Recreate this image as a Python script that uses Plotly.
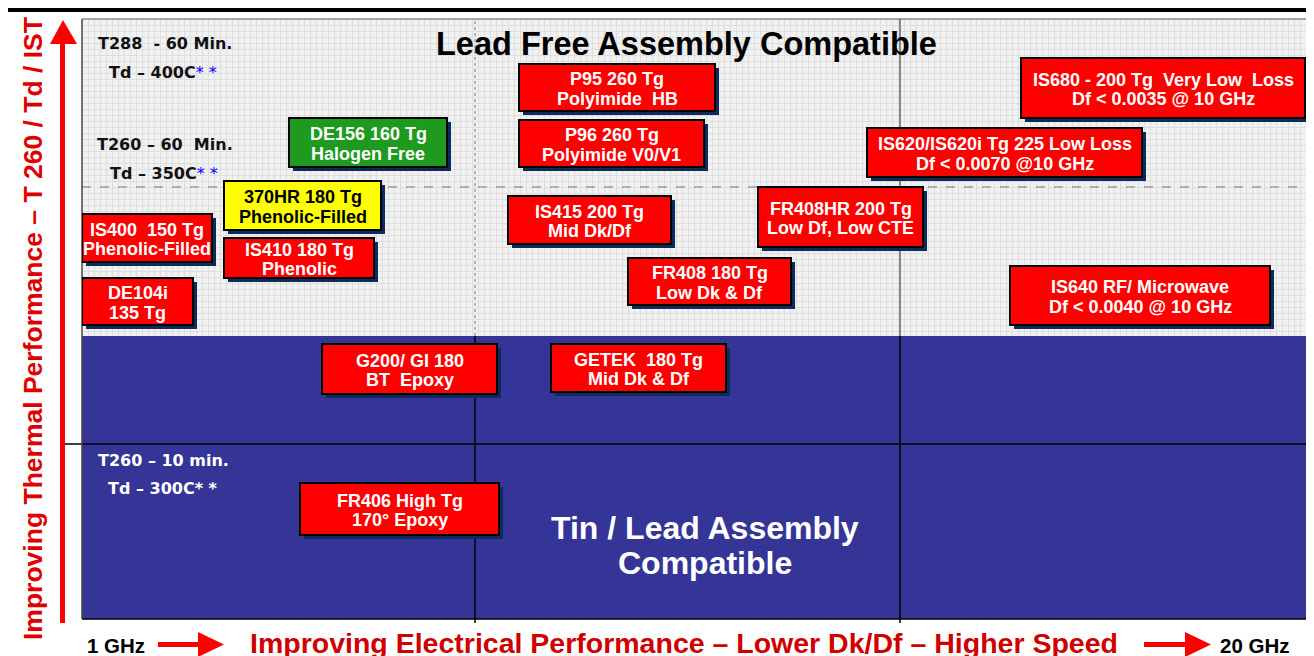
import plotly.graph_objects as go

# ---------------- data (chart units: x = electrical performance 0..1232, y = thermal performance 0..600)
products = [
    "DE156 160 Tg<br>Halogen Free",
    "370HR 180 Tg<br>Phenolic-Filled",
    "IS400\u00a0 150 Tg<br>Phenolic-Filled",
    "IS410 180 Tg<br>Phenolic",
    "DE104i<br>135 Tg",
    "P95 260 Tg<br>Polyimide\u00a0 HB",
    "P96 260 Tg<br>Polyimide V0/V1",
    "IS415 200 Tg<br>Mid Dk/Df",
    "FR408 180 Tg<br>Low Dk & Df",
    "FR408HR 200 Tg<br>Low Df, Low CTE",
    "IS620/IS620i Tg 225 Low Loss<br>Df < 0.0070 @10 GHz",
    "IS680 - 200 Tg\u00a0 Very Low\u00a0 Loss<br>Df < 0.0035 @ 10 GHz",
    "IS640 RF/ Microwave<br>Df < 0.0040 @ 10 GHz",
    "G200/ GI 180<br>BT\u00a0 Epoxy",
    "GETEK\u00a0 180 Tg<br>Mid Dk & Df",
    "FR406 High Tg<br>170° Epoxy",
]
elec = [286, 220.5, 65, 217, 55.5, 535, 529.5, 507.5, 627.5, 758.5, 922.5, 1081, 1058, 327.5, 556.5, 317.5]
thermal = [476.5, 413.5, 381, 361, 317.5, 531.5, 475.5, 399, 337.5, 402, 466.5, 531, 323.5, 250, 251, 110]
box_w = [158, 157, 130, 150, 111, 196, 185, 163, 163, 165, 275, 284, 260, 175, 175, 199]
box_h = [49, 49, 48, 40, 47, 47, 47, 48, 47, 60, 49, 60, 59, 50, 48, 52]
box_kind = ["halogen", "filled"] + ["std"] * 14

kind_fill = {"halogen": "#1e9a1e", "filled": "#ffff00", "std": "#ff0000"}
kind_text = {"halogen": "white", "filled": "black", "std": "white"}

region_split = 283        # lead-free vs tin/lead boundary (thermal)
lead_free_mid = 432       # dashed divider
tin_lead_mid = 175        # solid divider
freq_splits = [393, 818]  # electrical performance dividers

corner_labels_top = ["T288\u00a0 - 60 Min.", "Td – 400C", "T260 – 60\u00a0 Min.", "Td – 350C"]
corner_labels_bottom = ["T260 – 10 min.", "Td – 300C"]
region_titles = ["Lead Free Assembly Compatible", "Tin / Lead Assembly", "Compatible"]

# ---------------- layout geometry (page pixels; the page body adds an 8px offset)
OFF = 8
W, H = 1314, 656
ML, MR, MT, MB = 82, 0, 19, 37
PW, PH = W - ML - MR, H - MT - MB
XMAX, YMAX = 1232, 600
FONT = "Liberation Sans, Arial, sans-serif"
WIDE = "DejaVu Sans, Verdana, sans-serif"


def px(xp):  # page pixel x -> paper
    return (xp - ML) / PW


def py(yp):  # page pixel y -> paper
    return (H - MB - yp) / PH


fig = go.Figure()
fig.add_trace(go.Scatter(x=[0, XMAX], y=[0, YMAX], mode="markers",
                         marker=dict(opacity=0), hoverinfo="skip", showlegend=False))

shapes = []
shapes.append(dict(type="rect", xref="x", yref="y", x0=0, x1=XMAX, y0=0, y1=region_split,
                   fillcolor="#353597", line=dict(width=0), layer="above"))
shapes.append(dict(type="line", xref="x", yref="y", x0=0, x1=XMAX, y0=lead_free_mid, y1=lead_free_mid,
                   line=dict(color="#9a9a9a", width=1.5, dash="dash"), layer="above"))
shapes.append(dict(type="line", xref="x", yref="y", x0=freq_splits[0], x1=freq_splits[0], y0=region_split, y1=YMAX,
                   line=dict(color="#8a8a8a", width=1.2, dash="dot"), layer="above"))
shapes.append(dict(type="line", xref="x", yref="y", x0=freq_splits[1], x1=freq_splits[1], y0=region_split, y1=YMAX,
                   line=dict(color="#444444", width=1.2), layer="above"))
for fx in freq_splits:
    shapes.append(dict(type="line", xref="x", yref="paper", x0=fx, x1=fx, y0=py(623), y1=py(336),
                       line=dict(color="black", width=1.5), layer="above"))
shapes.append(dict(type="line", xref="paper", yref="y", x0=px(62), x1=1, y0=tin_lead_mid, y1=tin_lead_mid,
                   line=dict(color="black", width=1.5), layer="above"))
shapes.append(dict(type="line", xref="paper", yref="paper", x0=0, x1=1, y0=0, y1=0,
                   line=dict(color="black", width=1.5), layer="above"))
shapes.append(dict(type="line", xref="paper", yref="paper", x0=0, x1=1, y0=1, y1=1,
                   line=dict(color="#555555", width=1.2), layer="above"))
shapes.append(dict(type="line", xref="paper", yref="paper", x0=0, x1=0, y0=0, y1=1,
                   line=dict(color="#444444", width=1.5), layer="above"))
shapes.append(dict(type="line", xref="paper", yref="paper", x0=px(6), x1=1, y0=py(10), y1=py(10),
                   line=dict(color="black", width=4), layer="above"))

RED = "#ff0000"
shapes.append(dict(type="rect", xref="paper", yref="paper", x0=px(60), x1=px(65), y0=py(623), y1=py(42),
                   fillcolor=RED, line=dict(width=0), layer="above"))
shapes.append(dict(type="path", xref="paper", yref="paper",
                   path=f"M {px(50)},{py(44)} L {px(77)},{py(44)} L {px(63)},{py(20)} Z",
                   fillcolor=RED, line=dict(width=0), layer="above"))
for x_start, x_base, x_tip in [(158, 198, 224), (1144, 1185, 1211)]:
    shapes.append(dict(type="rect", xref="paper", yref="paper", x0=px(x_start), x1=px(x_base + 1),
                       y0=py(647), y1=py(642), fillcolor=RED, line=dict(width=0), layer="above"))
    shapes.append(dict(type="path", xref="paper", yref="paper",
                       path=f"M {px(x_base)},{py(632)} L {px(x_base)},{py(657)} L {px(x_tip)},{py(644.5)} Z",
                       fillcolor=RED, line=dict(width=0), layer="above"))

annotations = []
LINE_GAP = 19.5
for label, cx, cy, w, h, kind in zip(products, elec, thermal, box_w, box_h, box_kind):
    shapes.append(dict(type="rect", xref="x", yref="y", x0=cx - w / 2 + 4, x1=cx + w / 2 + 4,
                       y0=cy - h / 2 - 4, y1=cy + h / 2 - 4, fillcolor="#0d2a5c",
                       line=dict(width=0), layer="above"))
    shapes.append(dict(type="rect", xref="x", yref="y", x0=cx - w / 2, x1=cx + w / 2,
                       y0=cy - h / 2, y1=cy + h / 2, fillcolor=kind_fill[kind],
                       line=dict(color="black", width=2), layer="above"))
    lines = label.split("<br>")
    for i, ln in enumerate(lines):
        ly = cy - 1.5 + LINE_GAP * ((len(lines) - 1) / 2 - i)
        annotations.append(dict(x=cx, y=ly, xref="x", yref="y", text=f"<b>{ln}</b>", showarrow=False,
                                xanchor="center", yanchor="middle", align="center",
                                font=dict(family=FONT, size=18, color=kind_text[kind])))

title_pos = [(686, 44), (705, 528), (705, 563)]
title_size = [32.5, 32, 32]
title_color = ["black", "white", "white"]
for t, (tx, ty), s, c in zip(region_titles, title_pos, title_size, title_color):
    annotations.append(dict(x=px(tx), y=py(ty), xref="paper", yref="paper", text=f"<b>{t}</b>",
                            showarrow=False, xanchor="center", yanchor="middle",
                            font=dict(family=FONT, size=s, color=c)))

STAR = "<span style='color:#0000ff'>* *</span>"
top_pos = [(96, 43), (107, 73), (95, 144), (108, 173)]
for i, (t, (lx, ly)) in enumerate(zip(corner_labels_top, top_pos)):
    txt = f"<b>{t}</b>" + (STAR if i % 2 == 1 else "")
    annotations.append(dict(x=px(lx), y=py(ly), xref="paper", yref="paper", text=txt, showarrow=False,
                            xanchor="left", yanchor="middle", font=dict(family=WIDE, size=16, color="#111111")))
bot_pos = [(96, 460), (106, 488)]
for i, (t, (lx, ly)) in enumerate(zip(corner_labels_bottom, bot_pos)):
    txt = f"<b>{t}</b>" + ("<b>* *</b>" if i == 1 else "")
    annotations.append(dict(x=px(lx), y=py(ly), xref="paper", yref="paper", text=txt, showarrow=False,
                            xanchor="left", yanchor="middle", font=dict(family=WIDE, size=16, color="white")))

annotations.append(dict(x=px(33), y=py(329), xref="paper", yref="paper",
                        text="<b>Improving Thermal Performance – T 260 / Td / IST</b>", textangle=-90,
                        showarrow=False, xanchor="center", yanchor="middle",
                        font=dict(family=FONT, size=26.5, color="#e00000")))
annotations.append(dict(x=px(684), y=py(643), xref="paper", yref="paper",
                        text="<b>Improving Electrical Performance – Lower Dk/Df – Higher Speed</b>",
                        showarrow=False, xanchor="center", yanchor="middle",
                        font=dict(family=FONT, size=28.5, color="#d00000")))
annotations.append(dict(x=px(116), y=py(645), xref="paper", yref="paper", text="<b>1 GHz</b>",
                        showarrow=False, xanchor="center", yanchor="middle",
                        font=dict(family=FONT, size=20.5, color="black")))
annotations.append(dict(x=px(1255), y=py(645), xref="paper", yref="paper", text="<b>20 GHz</b>",
                        showarrow=False, xanchor="center", yanchor="middle",
                        font=dict(family=FONT, size=20.5, color="black")))

fig.update_layout(
    width=W - OFF, height=H - OFF, autosize=False,
    margin=dict(l=ML - OFF, r=MR, t=MT - OFF, b=MB, pad=0),
    paper_bgcolor="white", plot_bgcolor="#f1f1f1",
    xaxis=dict(range=[0, XMAX], dtick=6, tick0=0, showgrid=True, gridcolor="#dedede", gridwidth=1,
               zeroline=False, showticklabels=False, ticks="", showline=False, fixedrange=True),
    yaxis=dict(range=[0, YMAX], dtick=6, tick0=0, showgrid=True, gridcolor="#dedede", gridwidth=1,
               zeroline=False, showticklabels=False, ticks="", showline=False, fixedrange=True),
    shapes=shapes, annotations=annotations, showlegend=False,
)

fig.write_html("out.html", config={"displayModeBar": False})
